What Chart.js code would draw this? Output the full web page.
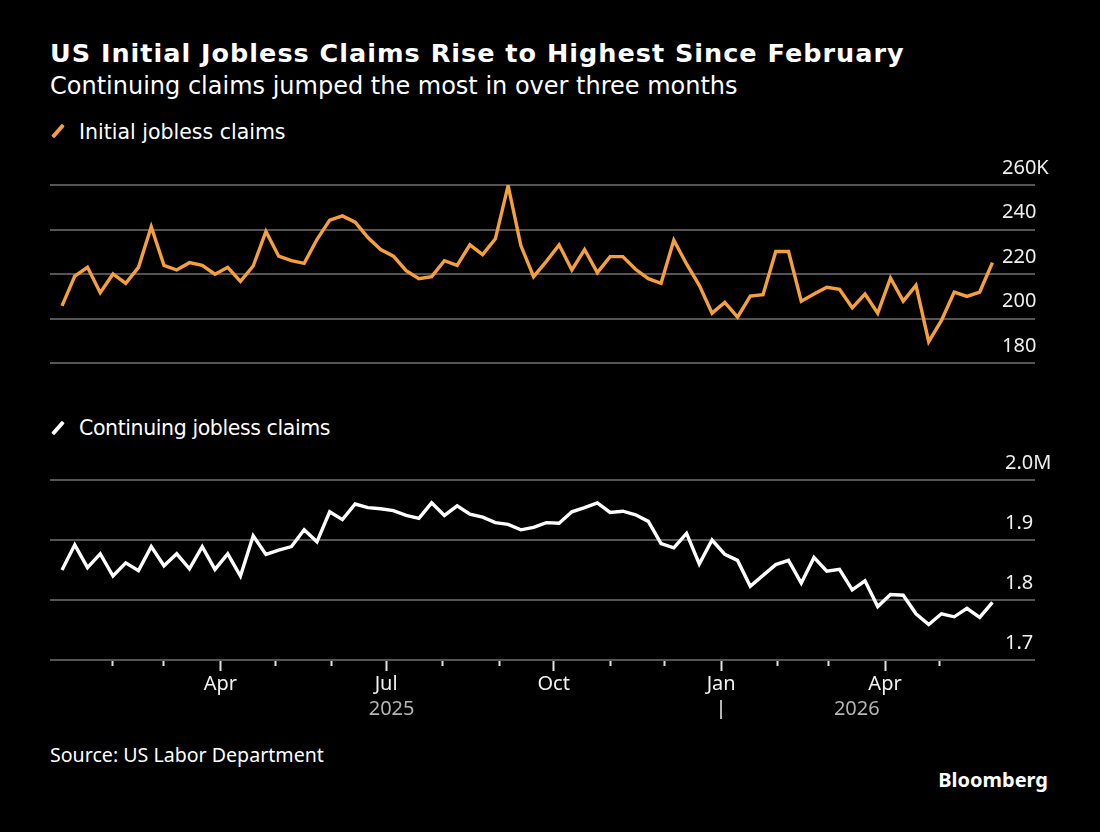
<!DOCTYPE html>
<html>
<head>
<meta charset="utf-8">
<script src="https://cdn.jsdelivr.net/npm/chart.js@4.4.1/dist/chart.umd.min.js"></script>
<style>
html,body{margin:0;padding:0;background:#000;}
body{width:1100px;height:832px;position:relative;overflow:hidden;font-family:'DejaVu Sans',sans-serif;color:#fff;}
.t{position:absolute;white-space:nowrap;line-height:1;}
#title{left:50px;top:41.4px;font-size:25.5px;font-weight:700;letter-spacing:1px;}
#subtitle{left:50px;top:73.7px;font-size:24px;}
#leg1{left:79px;top:121.6px;font-size:20.5px;}
#leg2{left:79px;top:417.6px;font-size:20.5px;letter-spacing:-0.4px;}
#source{left:50px;top:745.3px;font-size:19.6px;font-family:'Noto Sans',sans-serif;}
#brand{right:52px;top:770px;font-size:20px;font-weight:700;font-family:'Noto Sans',sans-serif;}
.sw{position:absolute;width:16px;height:4px;transform:rotate(-49deg);border-radius:1px;}
canvas{position:absolute;left:0;}
#c1{top:150px;}
#c2{top:440px;}
</style>
</head>
<body>
<div class="t" id="title">US Initial Jobless Claims Rise to Highest Since February</div>
<div class="t" id="subtitle">Continuing claims jumped the most in over three months</div>
<div class="sw" style="left:50px;top:129px;background:#F5A03A;"></div>
<div class="t" id="leg1">Initial jobless claims</div>
<canvas id="c1" width="1100" height="230"></canvas>
<div class="sw" style="left:50px;top:426px;background:#fff;"></div>
<div class="t" id="leg2">Continuing jobless claims</div>
<canvas id="c2" width="1100" height="290"></canvas>
<div class="t" id="source">Source: US Labor Department</div>
<div class="t" id="brand">Bloomberg</div>
<script>
// ---- data ----
const firstWeekEnding = '2025-01-04'; // weekly observations (Saturdays)
const initialClaims = [205.7,219.1,223.0,211.6,220.0,215.8,223.0,241.2,223.9,221.8,
  225.1,223.9,219.9,223.0,216.7,223.6,239.1,228.0,226.0,224.8,
  235.5,244.2,246.1,243.3,236.4,231.0,228.0,221.5,217.9,218.8,
  226.0,223.9,233.1,228.7,235.8,259.7,232.8,218.8,225.7,233.1,
  221.8,231.0,220.6,227.8,227.8,222.1,217.9,215.8,235.2,224.5,
  214.9,202.4,207.2,200.6,210.1,210.7,230.1,230.1,207.8,211.0,
  214.0,213.1,204.8,211.0,202.4,218.2,207.8,214.9,189.6,199.1,
  211.9,209.9,211.9,225.1];
const continuingClaims = [1.850,1.892,1.854,1.877,1.840,1.862,1.849,1.889,1.857,1.877,
  1.852,1.889,1.851,1.877,1.840,1.907,1.876,1.883,1.889,1.917,
  1.897,1.947,1.934,1.960,1.954,1.952,1.949,1.941,1.936,1.962,
  1.941,1.957,1.943,1.938,1.929,1.926,1.917,1.921,1.929,1.928,
  1.947,1.954,1.962,1.946,1.948,1.942,1.931,1.894,1.887,1.911,
  1.860,1.900,1.876,1.866,1.823,1.841,1.859,1.866,1.828,1.871,
  1.848,1.851,1.817,1.832,1.789,1.809,1.808,1.777,1.759,1.777,
  1.772,1.786,1.771,1.796];
const monthTicks = ['2025-02-01','2025-03-01','2025-04-01','2025-05-01','2025-06-01','2025-07-01',
  '2025-08-01','2025-09-01','2025-10-01','2025-11-01','2025-12-01','2026-01-01',
  '2026-02-01','2026-03-01','2026-04-01','2026-05-01'];
const monthTickLabels = ['','','Apr','','','Jul','','','Oct','','','Jan','','','Apr',''];
const yearLabels = ['2025','2026'];
const yearBoundary = '2026-01-01';
const initialTicks = [180,200,220,240,260];
const initialTickLabels = ['180','200','220','240','260K'];
const continuingTicks = [1.7,1.8,1.9,2.0];
const continuingTickLabels = ['1.7','1.8','1.9','2.0M'];

// ---- helpers ----
const ORIGIN = Date.UTC(2025,0,1);
function dayOf(s){const [y,m,d]=s.split('-').map(Number);return (Date.UTC(y,m-1,d)-ORIGIN)/86400000;}
const firstDay = dayOf(firstWeekEnding);
const weekDays = initialClaims.map((_,i)=>firstDay+7*i);
const monthTickDays = monthTicks.map(dayOf);
const initialPts = initialClaims.map((v,i)=>({x:weekDays[i],y:v}));
const continuingPts = continuingClaims.map((v,i)=>({x:weekDays[i],y:v}));

const X_MIN = -3.6, X_MAX = 518.15;
const GRID = '#555555';

Chart.defaults.font.family = "'Noto Sans', sans-serif";
Chart.defaults.color = '#eeeeee';

function yScale(min,max,ticks,labels,pad){
  return {
    position:'right', min:min, max:max,
    afterBuildTicks:s=>{s.ticks = ticks.map(v=>({value:v}));},
    afterFit:s=>{s.width = 50;},
    grid:{color:GRID, lineWidth:2, drawTicks:true, tickLength:35, tickColor:GRID, tickWidth:2},
    border:{display:false},
    ticks:{autoSkip:false, crossAlign:'near', padding:pad, labelOffset:-17,
      color:'#eeeeee', font:{size:20},
      callback:v=>labels[ticks.indexOf(v)]}
  };
}

const yearPlugin = {
  id:'years',
  afterDraw(chart){
    const x = chart.scales.x, ctx = chart.ctx, bottom = chart.chartArea.bottom;
    const jan = x.getPixelForValue(dayOf(yearBoundary));
    const first = x.getPixelForValue(weekDays[0]);
    const last = x.getPixelForValue(weekDays[weekDays.length-1]);
    ctx.save();
    ctx.fillStyle = '#b4b4b4';
    ctx.font = "20px 'Noto Sans', sans-serif";
    ctx.textAlign = 'center'; ctx.textBaseline = 'alphabetic';
    ctx.fillText(yearLabels[0], (first+jan)/2, bottom+55);
    ctx.fillText(yearLabels[1], (jan+last)/2, bottom+55);
    ctx.strokeStyle = '#b4b4b4'; ctx.lineWidth = 2;
    ctx.beginPath(); ctx.moveTo(Math.round(jan), bottom+40); ctx.lineTo(Math.round(jan), bottom+59); ctx.stroke();
    ctx.restore();
  }
};

function build(){
  new Chart(document.getElementById('c1'), {
    type:'line',
    data:{datasets:[{data:initialPts, borderColor:'#F5A03A', borderWidth:3.4, pointRadius:0, tension:0, fill:false}]},
    options:{
      responsive:false, animation:false, devicePixelRatio:1,
      layout:{padding:{left:50,right:50,top:35,bottom:17}},
      plugins:{legend:{display:false}, tooltip:{enabled:false}},
      scales:{
        x:{type:'linear', min:X_MIN, max:X_MAX, display:false},
        y:yScale(180,260,initialTicks,initialTickLabels,-33)
      }
    }
  });
  new Chart(document.getElementById('c2'), {
    type:'line',
    data:{datasets:[{data:continuingPts, borderColor:'#ffffff', borderWidth:3.4, pointRadius:0, tension:0, fill:false}]},
    options:{
      responsive:false, animation:false, devicePixelRatio:1,
      layout:{padding:{left:50,right:50,top:40,bottom:20}},
      plugins:{legend:{display:false}, tooltip:{enabled:false}},
      scales:{
        x:{type:'linear', min:X_MIN, max:X_MAX, position:'bottom',
          afterBuildTicks:s=>{s.ticks = monthTickDays.map(v=>({value:v}));},
          afterFit:s=>{s.height = 50;},
          grid:{drawOnChartArea:false, drawTicks:true, tickLength:11, tickColor:'#e0e0e0', tickWidth:2,
            tickBorderDash:c=> (monthTickLabels[c.index] ? [] : [6,30])},
          border:{display:false},
          ticks:{autoSkip:false, maxRotation:0, minRotation:0, padding:1, color:'#f2f2f2', font:{size:20},
            callback:(v,i)=>monthTickLabels[i]}
        },
        y:yScale(1.7,2.0,continuingTicks,continuingTickLabels,-30)
      }
    },
    plugins:[yearPlugin]
  });
}
build();
</script>
</body>
</html>
